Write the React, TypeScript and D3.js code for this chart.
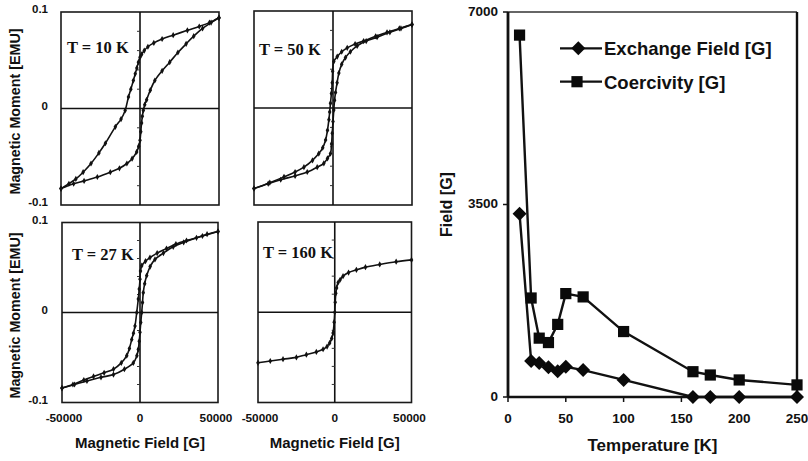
import React from "react";
import * as d3 from "d3";

// ---------- Hysteresis loop data: [field (G), moment (EMU)] ----------
const loop10Down: [number, number][] = [
  [50000, 0.094], [44000, 0.089], [37500, 0.085], [30000, 0.081], [21000, 0.076], [14000, 0.072],
  [8750, 0.068], [5000, 0.064], [2700, 0.060], [1000, 0.056], [0, 0.053], [-1000, 0.048],
  [-2000, 0.042], [-3000, 0.036], [-4200, 0.029], [-5800, 0.020], [-7300, 0.012], [-9400, -0.002],
  [-12000, -0.011], [-15600, -0.019], [-21900, -0.036], [-26000, -0.046], [-31000, -0.057],
  [-36000, -0.066], [-40600, -0.073], [-45000, -0.078], [-50000, -0.083],
];
const loop10Up: [number, number][] = [
  [-50000, -0.083], [-42000, -0.078], [-35400, -0.075], [-27000, -0.071], [-18800, -0.066],
  [-13000, -0.062], [-8300, -0.057], [-5000, -0.052], [-2100, -0.045], [-800, -0.039], [0, -0.033],
  [500, -0.024], [1000, -0.015], [1500, -0.008], [2100, -0.002], [3000, 0.004], [4200, 0.009],
  [6500, 0.019], [9400, 0.029], [14000, 0.039], [18800, 0.048], [24000, 0.058], [29200, 0.067],
  [34000, 0.075], [39600, 0.083], [45000, 0.089], [50000, 0.094],
];
const loop50Down: [number, number][] = [
  [50000, 0.086], [42000, 0.082], [34200, 0.078], [27000, 0.074], [19400, 0.069], [14000, 0.066],
  [9000, 0.062], [5500, 0.058], [2700, 0.053], [500, 0.048], [-200, 0.038], [-500, 0.026],
  [-1000, 0.015], [-1600, 0.005], [-2100, -0.004], [-2600, -0.012], [-3500, -0.023], [-4700, -0.033],
  [-6500, -0.041], [-9000, -0.047], [-13000, -0.054], [-18400, -0.061], [-24000, -0.066],
  [-31000, -0.071], [-40000, -0.077], [-50000, -0.083],
];
const loop50Up: [number, number][] = [
  [-50000, -0.083], [-41000, -0.078], [-33100, -0.074], [-24000, -0.070], [-16300, -0.066],
  [-10000, -0.061], [-5800, -0.057], [-3500, -0.052], [-1600, -0.047], [-900, -0.037], [-500, -0.026],
  [0, -0.014], [500, -0.002], [1000, 0.008], [1600, 0.016], [2600, 0.026], [3700, 0.036],
  [5500, 0.045], [7900, 0.052], [11000, 0.058], [15300, 0.064], [21000, 0.069], [27900, 0.073],
  [36000, 0.078], [43000, 0.082], [50000, 0.086],
];
const loop27Down: [number, number][] = [
  [50000, 0.090], [40000, 0.085], [29800, 0.080], [23000, 0.076], [17000, 0.071], [11000, 0.066],
  [6400, 0.061], [3500, 0.057], [1100, 0.052], [300, 0.046], [0, 0.037], [-500, 0.026],
  [-1100, 0.015], [-2100, 0.000], [-3200, -0.015], [-4200, -0.023], [-5300, -0.030], [-6800, -0.040],
  [-8500, -0.048], [-12000, -0.056], [-17000, -0.063], [-23000, -0.067], [-29800, -0.071],
  [-36000, -0.075], [-43000, -0.080], [-50000, -0.084],
];
const loop27Up: [number, number][] = [
  [-50000, -0.084], [-42000, -0.080], [-34000, -0.076], [-25000, -0.072], [-17000, -0.069],
  [-10000, -0.063], [-4300, -0.056], [-2000, -0.048], [-1100, -0.041], [-500, -0.032], [0, -0.022],
  [500, -0.011], [1100, 0.000], [1600, 0.011], [2100, 0.022], [3000, 0.032], [4300, 0.041],
  [6500, 0.051], [9600, 0.059], [15000, 0.066], [21300, 0.073], [28000, 0.078], [36200, 0.083],
  [43000, 0.087], [50000, 0.090],
];
const loop160: [number, number][] = [
  [50000, 0.058], [40000, 0.056], [29300, 0.053], [20000, 0.050], [14100, 0.047], [9000, 0.044],
  [5400, 0.040], [3500, 0.036], [2200, 0.033], [1200, 0.027], [700, 0.021], [300, 0.011], [0, 0],
  [-400, -0.011], [-1100, -0.023], [-2000, -0.029], [-3300, -0.034], [-5000, -0.038], [-7600, -0.041],
  [-12000, -0.044], [-18500, -0.047], [-25000, -0.050], [-33700, -0.052], [-42000, -0.054],
  [-50000, -0.056],
];

const loopFieldDomain = [-50000, 50000];
const loopMomentDomain = [-0.1, 0.1];
const loopFieldTicks = [-50000, 0, 50000];
const loopMomentTicks = [0.1, 0, -0.1];
const loopMomentTickLabels = ["0.1", "0", "-0.1"];
const loopMinorMoments = [-0.08, -0.06, -0.04, -0.02, 0.02, 0.04, 0.06, 0.08];
const panelLabels = ["T = 10 K", "T = 50 K", "T = 27 K", "T = 160 K"];

// ---------- Temperature dependence data ----------
const temperatures = [10, 20, 27, 35, 43, 50, 65, 100, 160, 175, 200, 250];
const exchangeField = [3330, 655, 620, 540, 470, 550, 490, 310, 0, 0, 0, 0];
const coercivity = [6580, 1800, 1070, 990, 1320, 1880, 1820, 1190, 460, 400, 310, 220];
const temperatureTicks = [0, 50, 100, 150, 200, 250];
const fieldTicks = [0, 3500, 7000];
const seriesNames = ["Exchange Field [G]", "Coercivity [G]"];

const SANS = "'Liberation Sans', Arial, Helvetica, sans-serif";
const SERIF = "'Liberation Serif', 'Times New Roman', serif";

type Box = { left: number; right: number; top: number; bottom: number };
type Panel = {
  label: string;
  branches: [number, number][][];
  box: Box;
  showY: boolean;
  showX: boolean;
  labelPos: [number, number];
};

const panels: Panel[] = [
  { label: panelLabels[0], branches: [loop10Down, loop10Up], box: { left: 61, right: 219, top: 12, bottom: 205 }, showY: true, showX: false, labelPos: [67, 53] },
  { label: panelLabels[1], branches: [loop50Down, loop50Up], box: { left: 254, right: 412, top: 11, bottom: 205 }, showY: false, showX: false, labelPos: [259, 55] },
  { label: panelLabels[2], branches: [loop27Down, loop27Up], box: { left: 62, right: 218, top: 222.5, bottom: 402.5 }, showY: true, showX: true, labelPos: [72, 260] },
  { label: panelLabels[3], branches: [loop160], box: { left: 258, right: 411.5, top: 222, bottom: 402.5 }, showY: false, showX: true, labelPos: [263, 258] },
];

function LoopPanel({ p }: { p: Panel }) {
  const { left, right, top, bottom } = p.box;
  const x = d3.scaleLinear().domain(loopFieldDomain).range([left, right]);
  const y = d3.scaleLinear().domain(loopMomentDomain).range([bottom, top]);
  const line = d3
    .line<[number, number]>()
    .x((d) => x(d[0]))
    .y((d) => y(d[1]))
    .curve(d3.curveCatmullRom.alpha(0.5));
  const marker = d3.symbol().type(d3.symbolDiamond).size(11)() as string;
  const midY = (top + bottom) / 2;
  return (
    <g>
      <rect x={left} y={top} width={right - left} height={bottom - top} fill="none" stroke="#1a1a1a" strokeWidth={1.6} />
      <line x1={x(0)} x2={x(0)} y1={top} y2={bottom} stroke="#111" strokeWidth={1.6} />
      <line x1={left} x2={right} y1={y(0)} y2={y(0)} stroke="#111" strokeWidth={1.6} />
      {loopMinorMoments.map((m) => (
        <line key={m} x1={x(0) - 3} x2={x(0)} y1={y(m)} y2={y(m)} stroke="#333" strokeWidth={1} />
      ))}
      {p.branches.map((b, i) => (
        <g key={i}>
          <path d={line(b) as string} fill="none" stroke="#111" strokeWidth={1.6} />
          {b.map((d, j) => (
            <path key={j} d={marker} transform={`translate(${x(d[0])},${y(d[1])})`} fill="#111" />
          ))}
        </g>
      ))}
      <text x={p.labelPos[0]} y={p.labelPos[1]} fontFamily={SERIF} fontWeight="bold" fontSize={16.5} fill="#111">
        {p.label}
      </text>
      {p.showY &&
        loopMomentTicks.map((t, i) => (
          <text key={t} x={48} y={y(t) - 2} textAnchor="end" dominantBaseline="middle" fontFamily={SANS} fontWeight="bold" fontSize={11.5} fill="#111">
            {loopMomentTickLabels[i]}
          </text>
        ))}
      {p.showY && (
        <text
          transform={`translate(20,${midY + 3}) rotate(-90)`}
          textAnchor="middle"
          fontFamily={SANS}
          fontWeight="bold"
          fontSize={14.3}
          fill="#111"
        >
          Magnetic Moment [EMU]
        </text>
      )}
      {p.showX &&
        loopFieldTicks.map((t) => (
          <text key={t} x={x(t) + (t < 0 ? 2 : t > 0 ? -2 : 0)} y={422} textAnchor="middle" fontFamily={SANS} fontWeight="bold" fontSize={11.8} fill="#111">
            {String(t)}
          </text>
        ))}
      {p.showX && (
        <text x={(left + right) / 2} y={448} textAnchor="middle" fontFamily={SANS} fontWeight="bold" fontSize={15} fill="#111">
          Magnetic Field [G]
        </text>
      )}
    </g>
  );
}

function TempChart() {
  const left = 508, right = 797, top = 12, bottom = 397;
  const x = d3.scaleLinear().domain([0, 250]).range([left, right]);
  const y = d3.scaleLinear().domain([0, 7000]).range([bottom, top]);
  const exPts: [number, number][] = temperatures.map((t, i) => [t, exchangeField[i]]);
  const coPts: [number, number][] = temperatures.map((t, i) => [t, coercivity[i]]);
  const line = d3
    .line<[number, number]>()
    .x((d) => x(d[0]))
    .y((d) => y(d[1]));
  const diamond = (cx: number, cy: number, k: string | number) => (
    <path key={k} d={`M${cx},${cy - 7}L${cx + 7},${cy}L${cx},${cy + 7}L${cx - 7},${cy}Z`} fill="#0a0a0a" />
  );
  const square = (cx: number, cy: number, k: string | number) => (
    <rect key={k} x={cx - 5.6} y={cy - 5.6} width={11.2} height={11.2} fill="#0a0a0a" />
  );
  return (
    <g>
      <line x1={left} x2={right} y1={top} y2={top} stroke="#333" strokeWidth={1.5} />
      <line x1={right} x2={right} y1={top} y2={bottom} stroke="#111" strokeWidth={2.4} />
      <line x1={left} x2={left} y1={top} y2={bottom} stroke="#111" strokeWidth={2.8} />
      <line x1={left} x2={right} y1={bottom} y2={bottom} stroke="#111" strokeWidth={2.4} />
      {fieldTicks.map((t) => (
        <g key={t}>
          <line x1={left - 5} x2={left} y1={y(t)} y2={y(t)} stroke="#111" strokeWidth={1.5} />
          <text x={498} y={y(t)} dominantBaseline="middle" textAnchor="end" fontFamily={SANS} fontWeight="bold" fontSize={13.5} fill="#111">
            {t}
          </text>
        </g>
      ))}
      {temperatureTicks.map((t) => (
        <g key={t}>
          <line x1={x(t)} x2={x(t)} y1={bottom} y2={bottom + 5} stroke="#111" strokeWidth={1.5} />
          <text x={x(t)} y={423} textAnchor="middle" fontFamily={SANS} fontWeight="bold" fontSize={13.5} fill="#111">
            {t}
          </text>
        </g>
      ))}
      <text x={(left + right) / 2} y={451} textAnchor="middle" fontFamily={SANS} fontWeight="bold" fontSize={17} fill="#111">
        Temperature [K]
      </text>
      <text transform={`translate(452,${(top + bottom) / 2}) rotate(-90)`} textAnchor="middle" fontFamily={SANS} fontWeight="bold" fontSize={16} fill="#111">
        Field [G]
      </text>
      <path d={line(coPts) as string} fill="none" stroke="#111" strokeWidth={2.4} />
      <path d={line(exPts) as string} fill="none" stroke="#111" strokeWidth={2.4} />
      {coPts.map((d, i) => square(x(d[0]), y(d[1]), "c" + i))}
      {exPts.map((d, i) => diamond(x(d[0]), y(d[1]), "e" + i))}
      {/* legend */}
      <line x1={560} x2={602} y1={48.3} y2={48.3} stroke="#111" strokeWidth={2.2} />
      {diamond(578.3, 48.3, "le")}
      <text x={604} y={55} fontFamily={SANS} fontWeight="bold" fontSize={18.5} fill="#111">
        {seriesNames[0]}
      </text>
      <line x1={560} x2={602} y1={81.7} y2={81.7} stroke="#111" strokeWidth={2.2} />
      {square(577, 81.7, "lc")}
      <text x={604} y={88.5} fontFamily={SANS} fontWeight="bold" fontSize={18.5} fill="#111">
        {seriesNames[1]}
      </text>
    </g>
  );
}

export default function App() {
  return (
    <svg
      width={808}
      height={461}
      viewBox="0 0 808 461"
      style={{ position: "absolute", left: 0, top: 0, background: "#fff" }}
    >
      <rect x={0} y={0} width={808} height={461} fill="#fff" />
      {panels.map((p, i) => (
        <LoopPanel key={i} p={p} />
      ))}
      <TempChart />
    </svg>
  );
}
